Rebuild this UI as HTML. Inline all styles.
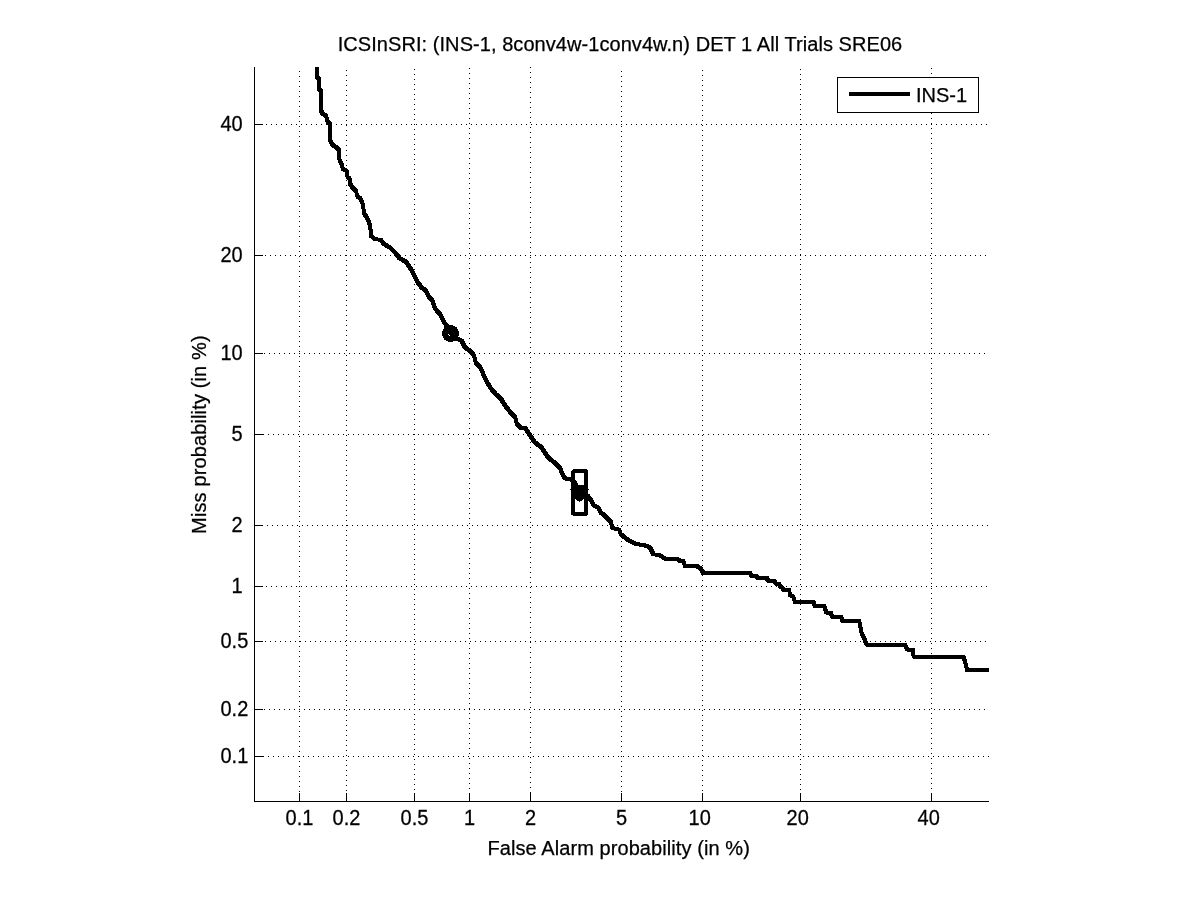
<!DOCTYPE html>
<html><head><meta charset="utf-8"><title>DET plot</title>
<style>
html,body{margin:0;padding:0;background:#fff;}
svg{display:block;}
text{font-family:"Liberation Sans",sans-serif;font-size:20px;fill:#000;stroke:#000;stroke-width:0.25px;}
.g{stroke:#000;stroke-width:1;stroke-dasharray:1 4;fill:none;shape-rendering:crispEdges;}
.a{stroke:#000;stroke-width:1;fill:none;shape-rendering:crispEdges;}
</style></head><body>
<svg width="1201" height="900" viewBox="0 0 1201 900">
<rect x="0" y="0" width="1201" height="900" fill="#fff"/>

<line class="g" x1="299.5" y1="71" x2="299.5" y2="801"/>
<line class="g" x1="346.5" y1="70" x2="346.5" y2="801"/>
<line class="g" x1="414.5" y1="69" x2="414.5" y2="801"/>
<line class="g" x1="469.5" y1="68" x2="469.5" y2="801"/>
<line class="g" x1="530.5" y1="67" x2="530.5" y2="801"/>
<line class="g" x1="621.5" y1="71" x2="621.5" y2="801"/>
<line class="g" x1="702.5" y1="70" x2="702.5" y2="801"/>
<line class="g" x1="800.5" y1="69" x2="800.5" y2="801"/>
<line class="g" x1="931.5" y1="68" x2="931.5" y2="801"/>
<line class="g" x1="258" y1="756.5" x2="989" y2="756.5"/>
<line class="g" x1="259" y1="709.5" x2="989" y2="709.5"/>
<line class="g" x1="260" y1="641.5" x2="989" y2="641.5"/>
<line class="g" x1="261" y1="586.5" x2="989" y2="586.5"/>
<line class="g" x1="262" y1="525.5" x2="989" y2="525.5"/>
<line class="g" x1="258" y1="434.5" x2="989" y2="434.5"/>
<line class="g" x1="259" y1="353.5" x2="989" y2="353.5"/>
<line class="g" x1="260" y1="255.5" x2="989" y2="255.5"/>
<line class="g" x1="261" y1="124.5" x2="989" y2="124.5"/>
<line class="a" x1="254.5" y1="67" x2="254.5" y2="802"/>
<line class="a" x1="254" y1="801.5" x2="989" y2="801.5"/>
<line class="a" x1="299.5" y1="793" x2="299.5" y2="801"/>
<line class="a" x1="346.5" y1="793" x2="346.5" y2="801"/>
<line class="a" x1="414.5" y1="793" x2="414.5" y2="801"/>
<line class="a" x1="469.5" y1="793" x2="469.5" y2="801"/>
<line class="a" x1="530.5" y1="793" x2="530.5" y2="801"/>
<line class="a" x1="621.5" y1="793" x2="621.5" y2="801"/>
<line class="a" x1="702.5" y1="793" x2="702.5" y2="801"/>
<line class="a" x1="800.5" y1="793" x2="800.5" y2="801"/>
<line class="a" x1="931.5" y1="793" x2="931.5" y2="801"/>
<line class="a" x1="255" y1="756.5" x2="263" y2="756.5"/>
<line class="a" x1="255" y1="709.5" x2="263" y2="709.5"/>
<line class="a" x1="255" y1="641.5" x2="263" y2="641.5"/>
<line class="a" x1="255" y1="586.5" x2="263" y2="586.5"/>
<line class="a" x1="255" y1="525.5" x2="263" y2="525.5"/>
<line class="a" x1="255" y1="434.5" x2="263" y2="434.5"/>
<line class="a" x1="255" y1="353.5" x2="263" y2="353.5"/>
<line class="a" x1="255" y1="255.5" x2="263" y2="255.5"/>
<line class="a" x1="255" y1="124.5" x2="263" y2="124.5"/>
<text transform="translate(299.5,824.5) scale(1,1.1)" text-anchor="middle">0.1</text>
<text transform="translate(346.5,824.5) scale(1,1.1)" text-anchor="middle">0.2</text>
<text transform="translate(414.5,824.5) scale(1,1.1)" text-anchor="middle">0.5</text>
<text transform="translate(469.5,824.5) scale(1,1.1)" text-anchor="middle">&#160;1&#160;</text>
<text transform="translate(530.5,824.5) scale(1,1.1)" text-anchor="middle">&#160;2&#160;</text>
<text transform="translate(621.5,824.5) scale(1,1.1)" text-anchor="middle">&#160;5&#160;</text>
<text transform="translate(702.5,824.5) scale(1,1.1)" text-anchor="middle">10&#160;</text>
<text transform="translate(800.5,824.5) scale(1,1.1)" text-anchor="middle">20&#160;</text>
<text transform="translate(931.5,824.5) scale(1,1.1)" text-anchor="middle">40&#160;</text>
<text transform="translate(248.3,763) scale(1,1.1)" text-anchor="end">0.1</text>
<text transform="translate(248.3,716) scale(1,1.1)" text-anchor="end">0.2</text>
<text transform="translate(248.3,648) scale(1,1.1)" text-anchor="end">0.5</text>
<text transform="translate(248.3,593) scale(1,1.1)" text-anchor="end">&#160;1&#160;</text>
<text transform="translate(248.3,532) scale(1,1.1)" text-anchor="end">&#160;2&#160;</text>
<text transform="translate(248.3,441) scale(1,1.1)" text-anchor="end">&#160;5&#160;</text>
<text transform="translate(248.3,360) scale(1,1.1)" text-anchor="end">10&#160;</text>
<text transform="translate(248.3,262) scale(1,1.1)" text-anchor="end">20&#160;</text>
<text transform="translate(248.3,131) scale(1,1.1)" text-anchor="end">40&#160;</text>
<text transform="translate(337.7,51) scale(1,1.0)" text-anchor="start" textLength="564.5">ICSInSRI: (INS-1, 8conv4w-1conv4w.n) DET 1 All Trials SRE06</text>
<text transform="translate(487.5,854.5) scale(1,1.0)" text-anchor="start" textLength="262.3">False Alarm probability (in %)</text>
<text transform="translate(206,533.9) rotate(-90) scale(1,1.05)" text-anchor="start" textLength="198.5">Miss probability (in %)</text>
<polyline points="317,67 317,77.5 319,79 319,89.5 321,91 321,110.5 322.5,113.5 326,115.5 327.5,122 330,123.5 330,140 332.5,145 336,147 339,150 339.5,160 341.7,164 343,169 346.7,171 347.5,177 349.7,179 350,184 353,188 356,191 357.5,197 360,198 362.5,203 364.2,213.3 367.5,219 370,225 371.2,235.8 374.2,238.7 380.8,240 384.2,244.2 390,247.5 395.8,253.3 399.2,258 405.8,261.7 410,267.5 414.2,275 416.7,280.8 421.7,287.5 425.8,290.8 429.2,297.5 432.5,300.8 435,308.3 440,314.2 444.2,322.5 447.5,326.7 450.5,333.3 456.7,338.7 461.7,340.8 465,347.5 470,350.8 474.2,355.8 475.8,362.5 480,366.7 483.3,374.2 486.7,381.7 490.8,388.3 495.8,394.2 501.7,400 505.8,406.7 510,411.7 515,416.7 516.7,423.3 520.8,428 525,427.5 529.2,434.2 535,442.5 541.7,447.5 547.5,456.7 553.3,461.7 560,468.3 563.3,475.8 565.8,478.7 571.7,479.2 575.8,484.2 579.2,491.7 587.5,495.8 590.8,500 593.3,505 598.3,507.5 600.8,512.5 606.7,517.5 610.8,521.7 612.5,528 619.2,529.7 620.8,534.2 628.3,540.3 636.7,544.2 644.2,545 650,547.5 653.3,554.2 660,555.3 665,558.7 676.7,558.7 680,560.8 683.3,560.8 685,565.8 696.7,565.8 700.8,568.7 703.3,573 750,573 751.7,575.8 755.8,575.8 757.5,578 766.7,578 768.3,580.8 774.2,580.8 775.8,583.7 779.2,584.2 780,586.7 782.5,587.5 783.3,590 789.2,590 790,595 793.3,596.7 795,602 813.3,602 815,605.8 824.2,605.8 826.3,612.5 830.8,612.5 832,616.7 840.8,616.7 842.5,620.8 859.2,620.8 861.7,633.3 864.2,638.3 866.7,644.7 905,644.7 907,649.6 913,649.6 913.6,656.6 963.6,656.6 965.6,664 967,669.8 989,669.8" fill="none" stroke="#000" stroke-width="4" stroke-linejoin="round" shape-rendering="crispEdges"/>
<path d="M315.3 75.8 L318.7 75.8 L320.7 77.3 L320.7 80.7 L317.3 80.7 L315.3 79.2Z M317.3 87.8 L320.7 87.8 L322.7 89.3 L322.7 92.7 L319.3 92.7 L317.3 91.2Z M319.3 108.8 L322.7 108.8 L324.2 111.8 L324.2 115.2 L320.8 115.2 L319.3 112.2Z M320.8 111.8 L324.2 111.8 L327.7 113.8 L327.7 117.2 L324.3 117.2 L320.8 115.2Z M324.3 113.8 L327.7 113.8 L329.2 120.3 L329.2 123.7 L325.8 123.7 L324.3 117.2Z M325.8 120.3 L329.2 120.3 L331.7 121.8 L331.7 125.2 L328.3 125.2 L325.8 123.7Z M328.3 138.3 L331.7 138.3 L334.2 143.3 L334.2 146.7 L330.8 146.7 L328.3 141.7Z M330.8 143.3 L334.2 143.3 L337.7 145.3 L337.7 148.7 L334.3 148.7 L330.8 146.7Z M334.3 145.3 L337.7 145.3 L340.7 148.3 L340.7 151.7 L337.3 151.7 L334.3 148.7Z M337.3 148.3 L340.7 148.3 L341.2 158.3 L341.2 161.7 L337.8 161.7 L337.3 151.7Z M337.8 158.3 L341.2 158.3 L343.4 162.3 L343.4 165.7 L340 165.7 L337.8 161.7Z M340 162.3 L343.4 162.3 L344.7 167.3 L344.7 170.7 L341.3 170.7 L340 165.7Z M341.3 167.3 L344.7 167.3 L348.4 169.3 L348.4 172.7 L345 172.7 L341.3 170.7Z M345 169.3 L348.4 169.3 L349.2 175.3 L349.2 178.7 L345.8 178.7 L345 172.7Z M345.8 175.3 L349.2 175.3 L351.4 177.3 L351.4 180.7 L348 180.7 L345.8 178.7Z M348 177.3 L351.4 177.3 L351.7 182.3 L351.7 185.7 L348.3 185.7 L348 180.7Z M348.3 182.3 L351.7 182.3 L354.7 186.3 L354.7 189.7 L351.3 189.7 L348.3 185.7Z M351.3 186.3 L354.7 186.3 L357.7 189.3 L357.7 192.7 L354.3 192.7 L351.3 189.7Z M354.3 189.3 L357.7 189.3 L359.2 195.3 L359.2 198.7 L355.8 198.7 L354.3 192.7Z M355.8 195.3 L359.2 195.3 L361.7 196.3 L361.7 199.7 L358.3 199.7 L355.8 198.7Z M358.3 196.3 L361.7 196.3 L364.2 201.3 L364.2 204.7 L360.8 204.7 L358.3 199.7Z M360.8 201.3 L364.2 201.3 L365.9 211.6 L365.9 215 L362.5 215 L360.8 204.7Z M362.5 211.6 L365.9 211.6 L369.2 217.3 L369.2 220.7 L365.8 220.7 L362.5 215Z M365.8 217.3 L369.2 217.3 L371.7 223.3 L371.7 226.7 L368.3 226.7 L365.8 220.7Z M368.3 223.3 L371.7 223.3 L372.9 234.1 L372.9 237.5 L369.5 237.5 L368.3 226.7Z M369.5 234.1 L372.9 234.1 L375.9 237 L375.9 240.4 L372.5 240.4 L369.5 237.5Z M372.5 237 L375.9 237 L382.5 238.3 L382.5 241.7 L379.1 241.7 L372.5 240.4Z M379.1 238.3 L382.5 238.3 L385.9 242.5 L385.9 245.9 L382.5 245.9 L379.1 241.7Z M382.5 242.5 L385.9 242.5 L391.7 245.8 L391.7 249.2 L388.3 249.2 L382.5 245.9Z M388.3 245.8 L391.7 245.8 L397.5 251.6 L397.5 255 L394.1 255 L388.3 249.2Z M394.1 251.6 L397.5 251.6 L400.9 256.3 L400.9 259.7 L397.5 259.7 L394.1 255Z M397.5 256.3 L400.9 256.3 L407.5 260 L407.5 263.4 L404.1 263.4 L397.5 259.7Z M404.1 260 L407.5 260 L411.7 265.8 L411.7 269.2 L408.3 269.2 L404.1 263.4Z M408.3 265.8 L411.7 265.8 L415.9 273.3 L415.9 276.7 L412.5 276.7 L408.3 269.2Z M412.5 273.3 L415.9 273.3 L418.4 279.1 L418.4 282.5 L415 282.5 L412.5 276.7Z M415 279.1 L418.4 279.1 L423.4 285.8 L423.4 289.2 L420 289.2 L415 282.5Z M420 285.8 L423.4 285.8 L427.5 289.1 L427.5 292.5 L424.1 292.5 L420 289.2Z M424.1 289.1 L427.5 289.1 L430.9 295.8 L430.9 299.2 L427.5 299.2 L424.1 292.5Z M427.5 295.8 L430.9 295.8 L434.2 299.1 L434.2 302.5 L430.8 302.5 L427.5 299.2Z M430.8 299.1 L434.2 299.1 L436.7 306.6 L436.7 310 L433.3 310 L430.8 302.5Z M433.3 306.6 L436.7 306.6 L441.7 312.5 L441.7 315.9 L438.3 315.9 L433.3 310Z M438.3 312.5 L441.7 312.5 L445.9 320.8 L445.9 324.2 L442.5 324.2 L438.3 315.9Z M442.5 320.8 L445.9 320.8 L449.2 325 L449.2 328.4 L445.8 328.4 L442.5 324.2Z M445.8 325 L449.2 325 L452.2 331.6 L452.2 335 L448.8 335 L445.8 328.4Z M448.8 331.6 L452.2 331.6 L458.4 337 L458.4 340.4 L455 340.4 L448.8 335Z M455 337 L458.4 337 L463.4 339.1 L463.4 342.5 L460 342.5 L455 340.4Z M460 339.1 L463.4 339.1 L466.7 345.8 L466.7 349.2 L463.3 349.2 L460 342.5Z M463.3 345.8 L466.7 345.8 L471.7 349.1 L471.7 352.5 L468.3 352.5 L463.3 349.2Z M468.3 349.1 L471.7 349.1 L475.9 354.1 L475.9 357.5 L472.5 357.5 L468.3 352.5Z M472.5 354.1 L475.9 354.1 L477.5 360.8 L477.5 364.2 L474.1 364.2 L472.5 357.5Z M474.1 360.8 L477.5 360.8 L481.7 365 L481.7 368.4 L478.3 368.4 L474.1 364.2Z M478.3 365 L481.7 365 L485 372.5 L485 375.9 L481.6 375.9 L478.3 368.4Z M481.6 372.5 L485 372.5 L488.4 380 L488.4 383.4 L485 383.4 L481.6 375.9Z M485 380 L488.4 380 L492.5 386.6 L492.5 390 L489.1 390 L485 383.4Z M489.1 386.6 L492.5 386.6 L497.5 392.5 L497.5 395.9 L494.1 395.9 L489.1 390Z M494.1 392.5 L497.5 392.5 L503.4 398.3 L503.4 401.7 L500 401.7 L494.1 395.9Z M500 398.3 L503.4 398.3 L507.5 405 L507.5 408.4 L504.1 408.4 L500 401.7Z M504.1 405 L507.5 405 L511.7 410 L511.7 413.4 L508.3 413.4 L504.1 408.4Z M508.3 410 L511.7 410 L516.7 415 L516.7 418.4 L513.3 418.4 L508.3 413.4Z M513.3 415 L516.7 415 L518.4 421.6 L518.4 425 L515 425 L513.3 418.4Z M515 421.6 L518.4 421.6 L522.5 426.3 L522.5 429.7 L519.1 429.7 L515 425Z M519.1 426.3 L523.3 425.8 L526.7 425.8 L526.7 429.2 L522.5 429.7 L519.1 429.7Z M523.3 425.8 L526.7 425.8 L530.9 432.5 L530.9 435.9 L527.5 435.9 L523.3 429.2Z M527.5 432.5 L530.9 432.5 L536.7 440.8 L536.7 444.2 L533.3 444.2 L527.5 435.9Z M533.3 440.8 L536.7 440.8 L543.4 445.8 L543.4 449.2 L540 449.2 L533.3 444.2Z M540 445.8 L543.4 445.8 L549.2 455 L549.2 458.4 L545.8 458.4 L540 449.2Z M545.8 455 L549.2 455 L555 460 L555 463.4 L551.6 463.4 L545.8 458.4Z M551.6 460 L555 460 L561.7 466.6 L561.7 470 L558.3 470 L551.6 463.4Z M558.3 466.6 L561.7 466.6 L565 474.1 L565 477.5 L561.6 477.5 L558.3 470Z M561.6 474.1 L565 474.1 L567.5 477 L567.5 480.4 L564.1 480.4 L561.6 477.5Z M564.1 477 L567.5 477 L573.4 477.5 L573.4 480.9 L570 480.9 L564.1 480.4Z M570 477.5 L573.4 477.5 L577.5 482.5 L577.5 485.9 L574.1 485.9 L570 480.9Z M574.1 482.5 L577.5 482.5 L580.9 490 L580.9 493.4 L577.5 493.4 L574.1 485.9Z M577.5 490 L580.9 490 L589.2 494.1 L589.2 497.5 L585.8 497.5 L577.5 493.4Z M585.8 494.1 L589.2 494.1 L592.5 498.3 L592.5 501.7 L589.1 501.7 L585.8 497.5Z M589.1 498.3 L592.5 498.3 L595 503.3 L595 506.7 L591.6 506.7 L589.1 501.7Z M591.6 503.3 L595 503.3 L600 505.8 L600 509.2 L596.6 509.2 L591.6 506.7Z M596.6 505.8 L600 505.8 L602.5 510.8 L602.5 514.2 L599.1 514.2 L596.6 509.2Z M599.1 510.8 L602.5 510.8 L608.4 515.8 L608.4 519.2 L605 519.2 L599.1 514.2Z M605 515.8 L608.4 515.8 L612.5 520 L612.5 523.4 L609.1 523.4 L605 519.2Z M609.1 520 L612.5 520 L614.2 526.3 L614.2 529.7 L610.8 529.7 L609.1 523.4Z M610.8 526.3 L614.2 526.3 L620.9 528 L620.9 531.4 L617.5 531.4 L610.8 529.7Z M617.5 528 L620.9 528 L622.5 532.5 L622.5 535.9 L619.1 535.9 L617.5 531.4Z M619.1 532.5 L622.5 532.5 L630 538.6 L630 542 L626.6 542 L619.1 535.9Z M626.6 538.6 L630 538.6 L638.4 542.5 L638.4 545.9 L635 545.9 L626.6 542Z M635 542.5 L638.4 542.5 L645.9 543.3 L645.9 546.7 L642.5 546.7 L635 545.9Z M642.5 543.3 L645.9 543.3 L651.7 545.8 L651.7 549.2 L648.3 549.2 L642.5 546.7Z M648.3 545.8 L651.7 545.8 L655 552.5 L655 555.9 L651.6 555.9 L648.3 549.2Z M651.6 552.5 L655 552.5 L661.7 553.6 L661.7 557 L658.3 557 L651.6 555.9Z M658.3 553.6 L661.7 553.6 L666.7 557 L666.7 560.4 L663.3 560.4 L658.3 557Z M675 557 L678.4 557 L681.7 559.1 L681.7 562.5 L678.3 562.5 L675 560.4Z M681.6 559.1 L685 559.1 L686.7 564.1 L686.7 567.5 L683.3 567.5 L681.6 562.5Z M695 564.1 L698.4 564.1 L702.5 567 L702.5 570.4 L699.1 570.4 L695 567.5Z M699.1 567 L702.5 567 L705 571.3 L705 574.7 L701.6 574.7 L699.1 570.4Z M748.3 571.3 L751.7 571.3 L753.4 574.1 L753.4 577.5 L750 577.5 L748.3 574.7Z M754.1 574.1 L757.5 574.1 L759.2 576.3 L759.2 579.7 L755.8 579.7 L754.1 577.5Z M765 576.3 L768.4 576.3 L770 579.1 L770 582.5 L766.6 582.5 L765 579.7Z M772.5 579.1 L775.9 579.1 L777.5 582 L777.5 585.4 L774.1 585.4 L772.5 582.5Z M774.1 582 L777.5 582 L780.9 582.5 L780.9 585.9 L777.5 585.9 L774.1 585.4Z M777.5 582.5 L780.9 582.5 L781.7 585 L781.7 588.4 L778.3 588.4 L777.5 585.9Z M778.3 585 L781.7 585 L784.2 585.8 L784.2 589.2 L780.8 589.2 L778.3 588.4Z M780.8 585.8 L784.2 585.8 L785 588.3 L785 591.7 L781.6 591.7 L780.8 589.2Z M787.5 588.3 L790.9 588.3 L791.7 593.3 L791.7 596.7 L788.3 596.7 L787.5 591.7Z M788.3 593.3 L791.7 593.3 L795 595 L795 598.4 L791.6 598.4 L788.3 596.7Z M791.6 595 L795 595 L796.7 600.3 L796.7 603.7 L793.3 603.7 L791.6 598.4Z M811.6 600.3 L815 600.3 L816.7 604.1 L816.7 607.5 L813.3 607.5 L811.6 603.7Z M822.5 604.1 L825.9 604.1 L828 610.8 L828 614.2 L824.6 614.2 L822.5 607.5Z M829.1 610.8 L832.5 610.8 L833.7 615 L833.7 618.4 L830.3 618.4 L829.1 614.2Z M839.1 615 L842.5 615 L844.2 619.1 L844.2 622.5 L840.8 622.5 L839.1 618.4Z M857.5 619.1 L860.9 619.1 L863.4 631.6 L863.4 635 L860 635 L857.5 622.5Z M860 631.6 L863.4 631.6 L865.9 636.6 L865.9 640 L862.5 640 L860 635Z M862.5 636.6 L865.9 636.6 L868.4 643 L868.4 646.4 L865 646.4 L862.5 640Z M903.3 643 L906.7 643 L908.7 647.9 L908.7 651.3 L905.3 651.3 L903.3 646.4Z M911.3 647.9 L914.7 647.9 L915.3 654.9 L915.3 658.3 L911.9 658.3 L911.3 651.3Z M961.9 654.9 L965.3 654.9 L967.3 662.3 L967.3 665.7 L963.9 665.7 L961.9 658.3Z M963.9 662.3 L967.3 662.3 L968.7 668.1 L968.7 671.5 L965.3 671.5 L963.9 665.7Z" fill="#000" stroke="none" shape-rendering="crispEdges"/>
<circle cx="450.5" cy="333.5" r="8.5" fill="#000" shape-rendering="crispEdges"/>
<line x1="448" y1="334" x2="450" y2="336" stroke="#fff" stroke-width="1"/>
<rect x="573" y="485" width="13" height="12.5" fill="#000" shape-rendering="crispEdges"/>
<circle cx="579.5" cy="497" r="4.6" fill="#000" shape-rendering="crispEdges"/>
<line class="a" x1="570" y1="489.5" x2="589" y2="489.5"/>
<rect x="573" y="471" width="13" height="43" fill="none" stroke="#000" stroke-width="4" shape-rendering="crispEdges"/>
<path d="M571 469h2v1h-1v1h-1z M588 469h-1v1h1z M571 516h2v-1h-2z M588 516h-1v-1h1z" fill="#fff" shape-rendering="crispEdges"/>
<rect x="837.5" y="77.5" width="141" height="35" fill="#fff" stroke="#000" stroke-width="1" shape-rendering="crispEdges"/>
<line x1="849" y1="94" x2="910" y2="94" stroke="#000" stroke-width="4" shape-rendering="crispEdges"/>
<text transform="translate(916,101.5) scale(1,1.0)" text-anchor="start">INS-1</text>
</svg></body></html>
